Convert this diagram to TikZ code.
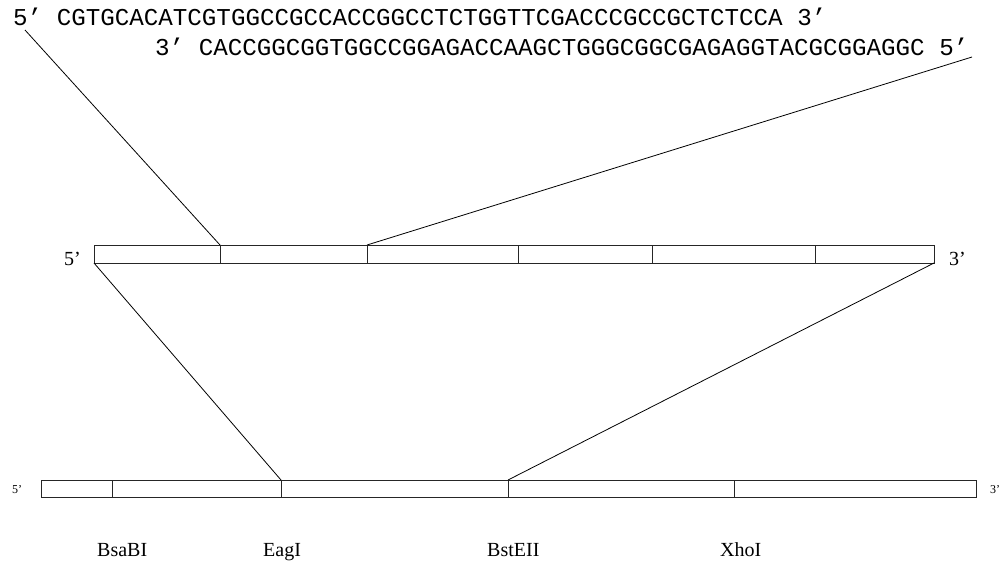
\documentclass[tikz,border=0pt]{standalone}
\usepackage{fontspec}
\setmainfont{Liberation Serif}
\newfontfamily\seqfont{Liberation Mono}
\begin{document}
\begin{tikzpicture}[x=1pt,y=-1pt,
  seq/.style={inner sep=0pt,anchor=base west,font=\seqfont\fontsize{24.2}{28}\selectfont},
  endlbl/.style={inner sep=0pt,anchor=base west,font=\fontsize{20}{24}\selectfont},
  smalllbl/.style={inner sep=0pt,anchor=base west,font=\fontsize{12}{14}\selectfont},
  site/.style={inner sep=0pt,anchor=base west,font=\fontsize{20}{24}\selectfont},
  bar/.style={draw=black!85,line width=1pt},
  link/.style={draw=black,line width=0.8pt}]
\useasboundingbox[fill=white] (0,0) rectangle (1004,566);

% sequence strands
\node[seq] (top) at (13,25) {5’ CGTGCACATCGTGGCCGCCACCGGCCTCTGGTTCGACCCGCCGCTCTCCA 3’};
\node[seq] (bot) at (155,55) {3’ CACCGGCGGTGGCCGGAGACCAAGCTGGGCGGCGAGAGGTACGCGGAGGC 5’};

% middle fragment
\draw[bar] (94,245) rectangle (934,263);
\foreach \x in {220,367,518,652,815}
  \draw[bar] (\x,245) -- (\x,263);
\coordinate (mA) at (220,245);
\coordinate (mB) at (367,245);
\coordinate (mL) at (94,263);
\coordinate (mR) at (934,263);
\node[endlbl] (m5) at (64,265) {5’};
\node[endlbl] (m3) at (949,265) {3’};

% full construct
\draw[bar] (41,480) rectangle (976,497);
\foreach \x in {112,281,508,734}
  \draw[bar] (\x,480) -- (\x,497);
\coordinate (bA) at (281,480);
\coordinate (bB) at (508,480);
\node[smalllbl] (b5) at (12,493) {5’};
\node[smalllbl] (b3) at (990,493) {3’};

% zoom lines
\coordinate (sL) at (25,30);
\coordinate (sR) at (972,57);
\draw[link] (sL) -- (mA);
\draw[link] (sR) -- (mB);
\draw[link] (mL) -- (bA);
\draw[link] (mR) -- (bB);

% restriction sites
\node[site] (s1) at (97,556) {BsaBI};
\node[site] (s2) at (263,556) {EagI};
\node[site] (s3) at (487,556) {BstEII};
\node[site] (s4) at (720,556) {XhoI};
\end{tikzpicture}
\end{document}
